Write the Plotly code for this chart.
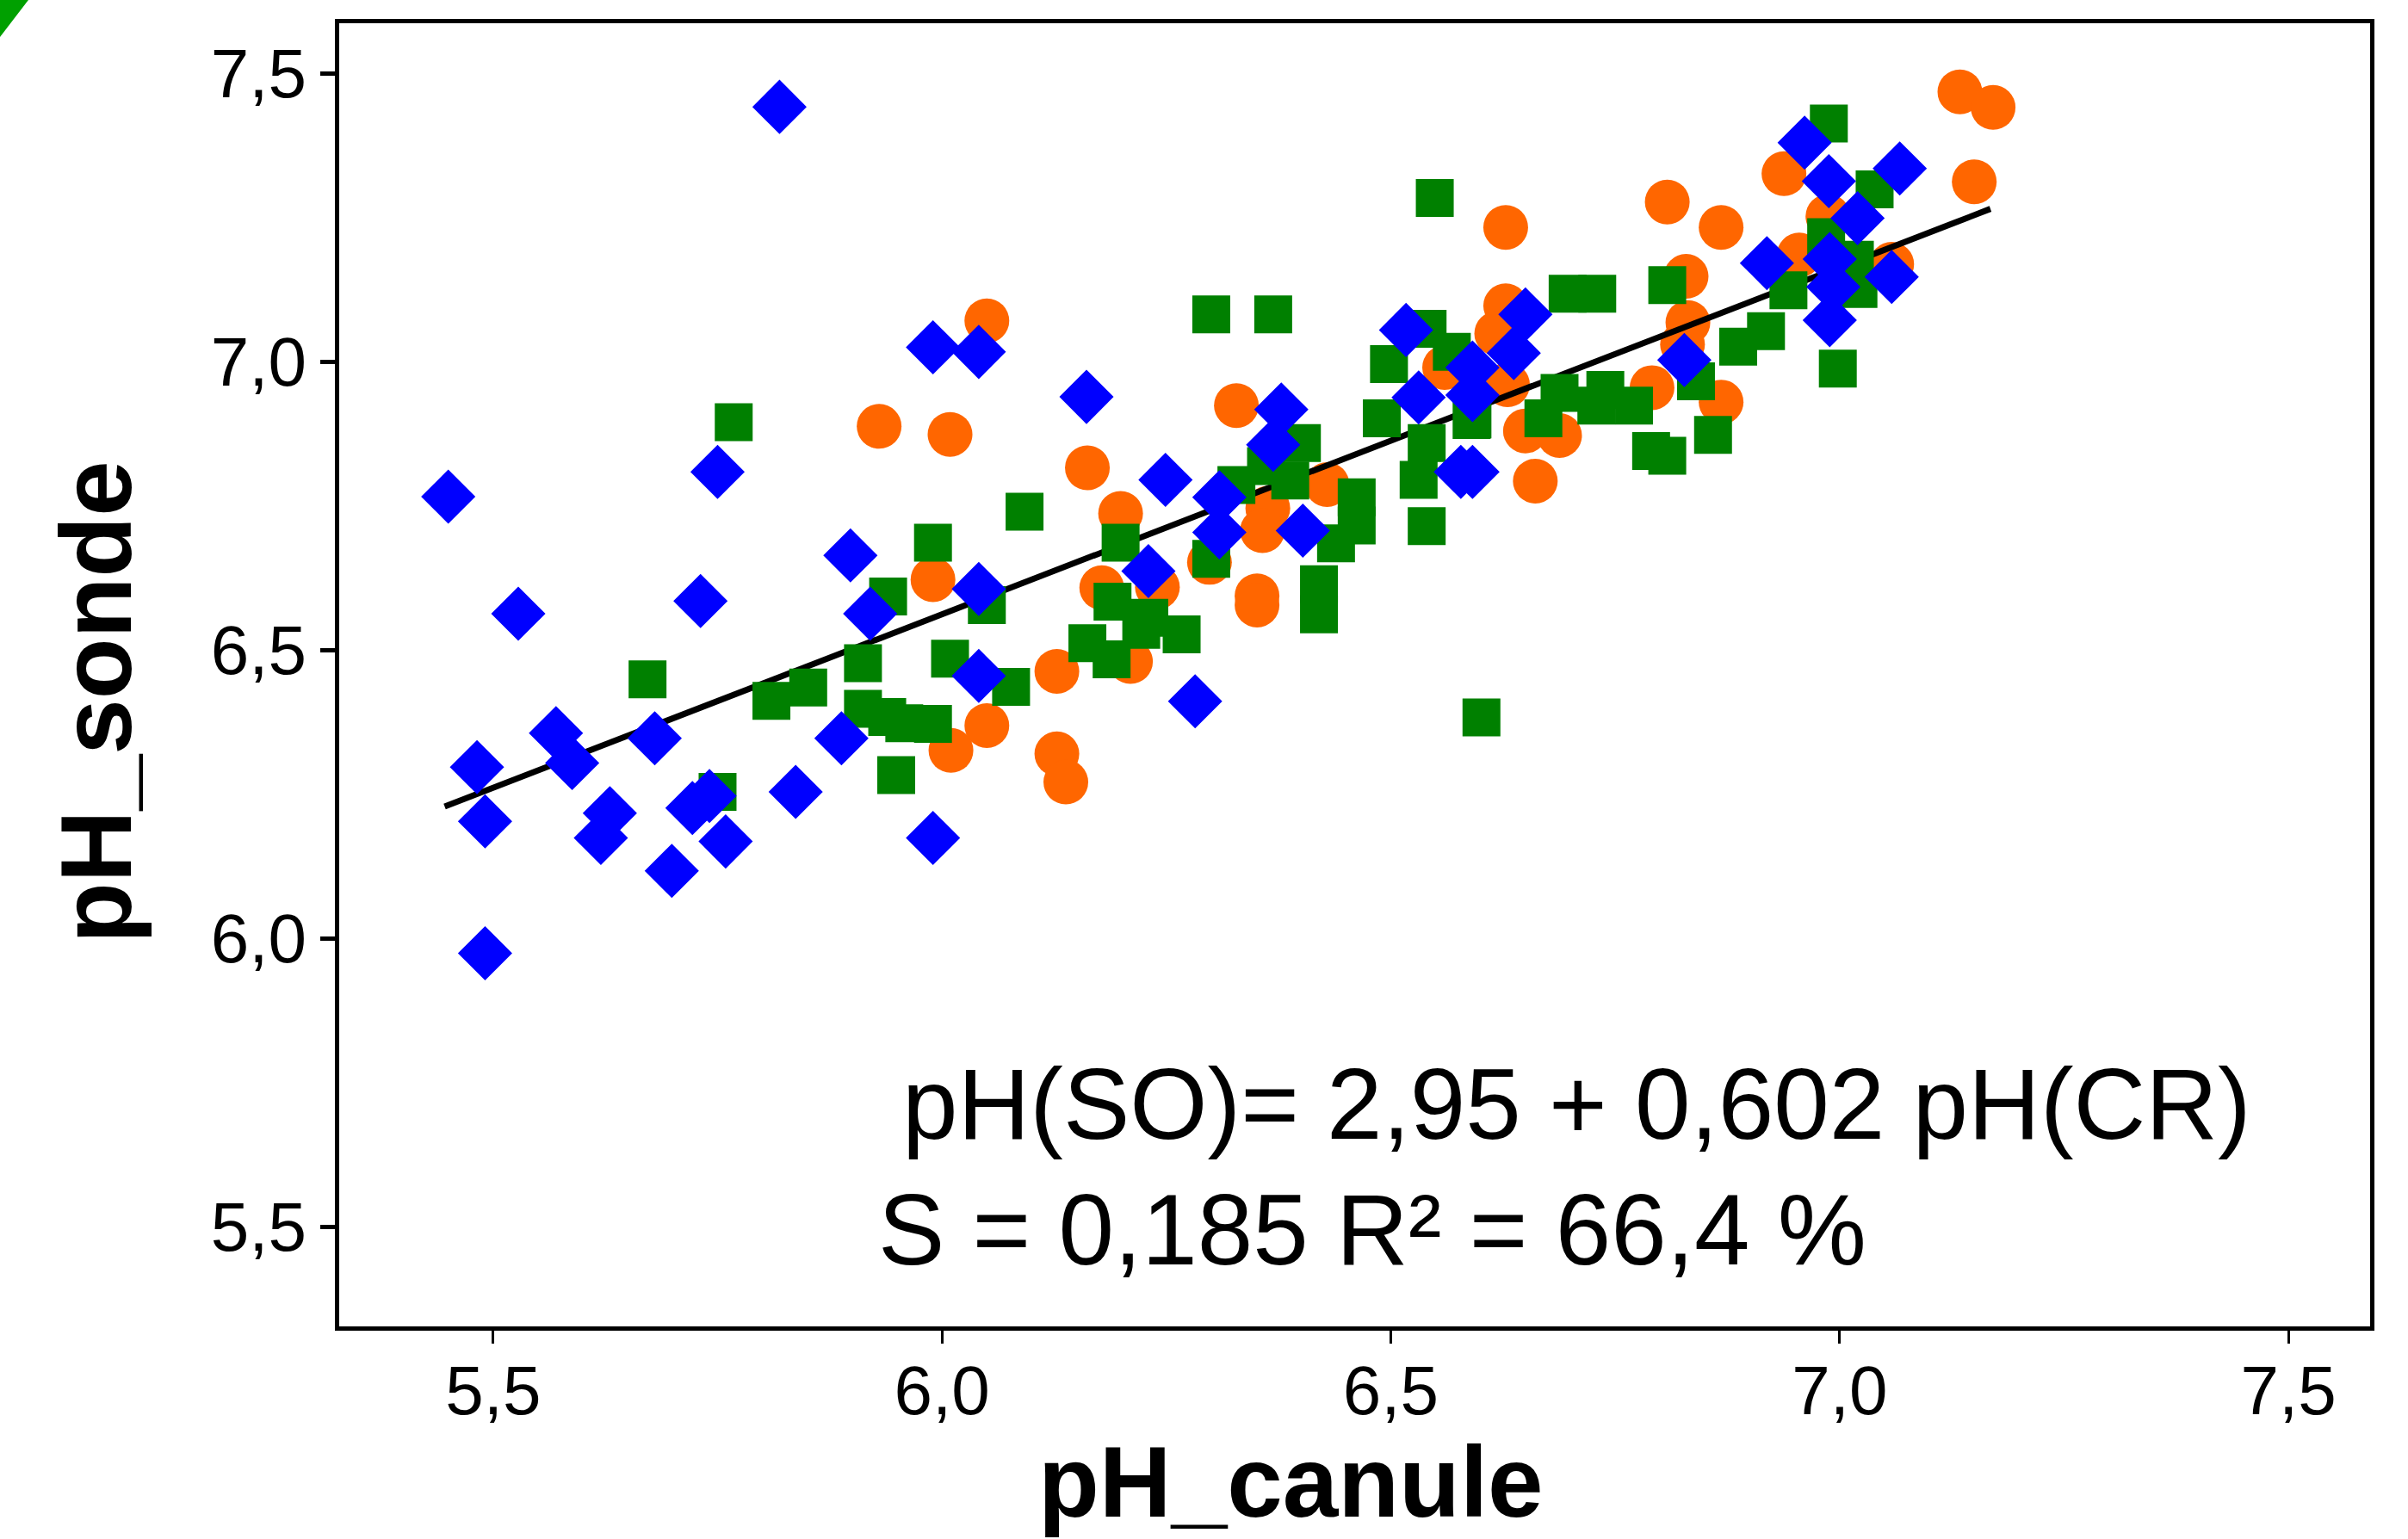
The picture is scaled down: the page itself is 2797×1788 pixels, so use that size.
import plotly.graph_objects as go

# ---------------- data ----------------
blue_x = [5.450, 5.482, 5.491, 5.491, 5.528, 5.570, 5.588, 5.620, 5.630, 5.680,
          5.699, 5.722, 5.741, 5.731, 5.750, 5.759, 5.819, 5.837, 5.888, 5.898,
          5.920, 5.990, 5.990, 6.041, 6.041, 6.041, 6.161, 6.230, 6.249, 6.282,
          6.309, 6.309, 6.369, 6.378, 6.402, 6.517, 6.531, 6.578, 6.591, 6.591,
          6.591, 6.637, 6.650, 6.827, 6.919, 6.961, 6.988, 7.020, 7.067, 6.989,
          6.993, 6.989, 7.058]
blue_y = [6.766, 6.297, 6.203, 5.974, 6.563, 6.356, 6.304, 6.174, 6.217, 6.347,
          6.117, 6.226, 6.247, 6.585, 6.809, 6.168, 7.442, 6.254, 6.347, 6.664,
          6.563, 7.025, 6.174, 7.017, 6.606, 6.455, 6.939, 6.637, 6.795, 6.411,
          6.765, 6.704, 6.856, 6.917, 6.707, 7.055, 6.938, 6.809, 6.809, 6.990,
          6.942, 7.015, 7.082, 7.003, 7.171, 7.380, 7.313, 7.249, 7.335, 7.178,
          7.130, 7.072, 7.147]

green_x = [5.672, 5.768, 5.750, 5.810, 5.851, 5.912, 5.940, 5.912, 5.939, 5.958,
           5.990, 5.949, 5.990, 6.009, 6.050, 6.077, 6.092, 6.162, 6.199, 6.190,
           6.231, 6.267, 6.222, 6.189, 6.300, 6.369, 6.300, 6.328, 6.361, 6.388,
           6.401, 6.420, 6.420, 6.462, 6.462, 6.439, 6.498, 6.490, 6.541, 6.568,
           6.540, 6.531, 6.540, 6.590, 6.549, 6.601, 6.697, 6.730, 6.808, 6.591,
           6.670, 6.688, 6.739, 6.729, 6.771, 6.790, 6.808, 6.859, 6.840, 6.887,
           6.918, 6.998, 6.988, 7.039, 6.985, 7.017, 6.943, 7.021]
green_y = [6.449, 6.895, 6.254, 6.412, 6.435, 6.477, 6.593, 6.398, 6.384, 6.373,
           6.372, 6.283, 6.686, 6.485, 6.578, 6.436, 6.740, 6.512, 6.686, 6.584,
           6.556, 6.527, 6.535, 6.484, 7.082, 7.082, 6.658, 6.786, 6.819, 6.794,
           6.859, 6.614, 6.562, 6.765, 6.716, 6.685, 6.996, 6.902, 7.057, 7.017,
           6.859, 6.795, 6.715, 6.899, 7.284, 6.383, 7.118, 7.118, 7.133, 6.900,
           6.902, 6.946, 6.951, 6.924, 6.924, 6.845, 6.837, 6.873, 6.966, 7.026,
           7.053, 6.988, 7.413, 7.299, 7.216, 7.177, 7.124, 7.126]

orange_x = [5.930, 6.009, 6.050, 5.990, 6.010, 6.050, 6.128, 6.128, 6.138, 6.162,
            6.199, 6.178, 6.240, 6.210, 6.298, 6.328, 6.351, 6.351, 6.363, 6.357,
            6.429, 6.560, 6.628, 6.628, 6.618, 6.630, 6.650, 6.688, 6.661, 6.808,
            6.868, 6.938, 6.829, 6.831, 6.825, 6.791, 6.868, 6.987, 6.955, 7.058,
            7.134, 7.171, 7.150]
orange_y = [6.888, 6.874, 7.071, 6.622, 6.326, 6.369, 6.463, 6.320, 6.271, 6.816,
            6.737, 6.608, 6.609, 6.480, 6.652, 6.924, 6.594, 6.578, 6.746, 6.707,
            6.787, 6.990, 7.233, 7.097, 7.049, 6.960, 6.880, 6.872, 6.793, 7.277,
            7.233, 7.326, 7.148, 7.068, 7.030, 6.955, 6.930, 7.252, 7.185, 7.169,
            7.468, 7.441, 7.312]

fit_intercept = 2.95
fit_slope = 0.602
fit_x = [5.446, 7.168]
fit_y = [fit_intercept + fit_slope * v for v in fit_x]

tick_vals = [5.5, 6.0, 6.5, 7.0, 7.5]
tick_text = ["5,5", "6,0", "6,5", "7,0", "7,5"]

eq_text = "pH(SO)= 2,95 + 0,602 pH(CR)"
stat_text = "S = 0,185 R² = 66,4 %"

# ---------------- figure ----------------
W, H = 2797, 1788
ML, MR, MT, MB = 394, 44, 27, 247
PW, PH = W - ML - MR, H - MT - MB

def px2paper(px, py):
    return (px - ML) / PW, (H - MB - py) / PH

fig = go.Figure()

fig.add_trace(go.Scatter(x=orange_x, y=orange_y, mode="markers",
                         marker=dict(symbol="circle", size=52, color="#FF6600",
                                     line=dict(width=0)), showlegend=False))
fig.add_trace(go.Scatter(x=fit_x, y=fit_y, mode="lines",
                         line=dict(color="black", width=7), showlegend=False))
fig.add_trace(go.Scatter(x=green_x, y=green_y, mode="markers",
                         marker=dict(symbol="square", size=44, color="#008000",
                                     line=dict(width=0)), showlegend=False))
fig.add_trace(go.Scatter(x=blue_x, y=blue_y, mode="markers",
                         marker=dict(symbol="diamond", size=48.5, color="#0000FF",
                                     line=dict(width=0)), showlegend=False))

tick_font = dict(family="Liberation Sans, Arial, sans-serif", size=80, color="black")
title_font = dict(family="Liberation Sans, Arial, sans-serif", size=116, color="black")

fig.update_xaxes(range=[5.3285, 7.591], tickvals=tick_vals, ticktext=tick_text,
                 showgrid=False, zeroline=False, showline=True, linecolor="black",
                 linewidth=5, mirror=True, ticks="outside", ticklen=15, tickwidth=3,
                 tickcolor="black", tickfont=tick_font, ticklabelstandoff=-14)
fig.update_yaxes(range=[5.327, 7.587], tickvals=tick_vals, ticktext=tick_text,
                 showgrid=False, zeroline=False, showline=True, linecolor="black",
                 linewidth=5, mirror=True, ticks="outside", ticklen=17, tickwidth=5,
                 tickcolor="black", tickfont=tick_font)

# axis titles
xt_x, xt_y = px2paper(1499, 1722)
yt_x, yt_y = px2paper(112, 816)
fig.add_annotation(text="<b>pH_canule</b>", xref="paper", yref="paper",
                   x=xt_x, y=xt_y, xanchor="center", yanchor="middle",
                   showarrow=False, font=title_font)
fig.add_annotation(text="<b>pH_sonde</b>", xref="paper", yref="paper",
                   x=yt_x, y=yt_y, xanchor="center", yanchor="middle",
                   textangle=-90, showarrow=False, font=title_font)

# regression text
fig.add_annotation(text=eq_text, x=6.707, y=5.712, xref="x", yref="y",
                   xanchor="center", yanchor="middle", showarrow=False,
                   font=title_font)
fig.add_annotation(text=stat_text, x=6.479, y=5.494, xref="x", yref="y",
                   xanchor="center", yanchor="middle", showarrow=False,
                   font=title_font)

# green corner stroke
p1 = px2paper(-20, -20)
p2 = px2paper(48.3, -20)
p3 = px2paper(-20, 69)
fig.add_shape(type="path", xref="paper", yref="paper",
              path=f"M {p1[0]},{p1[1]} L {p2[0]},{p2[1]} L {p3[0]},{p3[1]} Z",
              fillcolor="rgb(0,160,0)", line=dict(width=0), layer="above")

fig.update_layout(width=W, height=H, margin=dict(l=ML, r=MR, t=MT, b=MB),
                  plot_bgcolor="white", paper_bgcolor="white", showlegend=False)

fig.write_html("out.html")
